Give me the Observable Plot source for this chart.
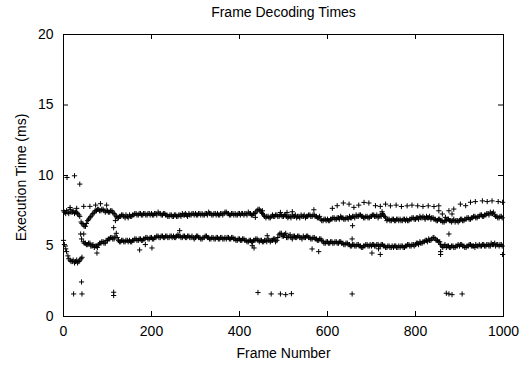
<!DOCTYPE html>
<html>
<head>
<meta charset="utf-8">
<script src="https://cdn.jsdelivr.net/npm/d3@7"></script>
<script src="https://cdn.jsdelivr.net/npm/@observablehq/plot@0.6"></script>
<style>
  html, body { margin: 0; padding: 0; background: #fff; }
  #chart svg { display: block; }
</style>
</head>
<body>
<div id="chart"></div>
<script>
// ---- data ----
const title = "Frame Decoding Times";
const xLabel = "Frame Number";
const yLabel = "Execution Time (ms)";
const xTicks = [0, 200, 400, 600, 800, 1000];
const yTicks = [0, 5, 10, 15, 20];
const frameStep = 5;   // band samples every 5 frames
const frameOffset2 = 2; // second sample set starts at frame 2

// upper band (ms), frames 0,5,...,995
const upperBand = [
  7.5,7.3,7.4,7.6,7.4,7.3,7.4,7.2,6.7,6.5,
  6.4,6.8,7.0,7.2,7.4,7.5,7.6,7.5,7.6,7.4,
  7.5,7.4,7.5,7.3,7.1,7.0,7.1,7.2,7.0,7.1,
  7.2,7.1,7.2,7.3,7.2,7.3,7.2,7.3,7.2,7.3,
  7.3,7.2,7.3,7.4,7.3,7.2,7.3,7.2,7.1,7.2,
  7.1,7.2,7.1,7.2,7.3,7.2,7.2,7.3,7.2,7.3,
  7.3,7.2,7.3,7.3,7.2,7.3,7.4,7.3,7.2,7.3,
  7.3,7.2,7.3,7.3,7.4,7.3,7.2,7.3,7.3,7.2,
  7.3,7.3,7.2,7.3,7.4,7.3,7.2,7.3,7.5,7.6,
  7.4,7.2,7.0,7.1,7.0,7.2,7.1,7.2,7.1,7.2,
  7.1,7.2,7.0,7.1,7.2,7.1,7.0,7.1,7.2,7.1,
  7.0,7.1,7.2,7.1,7.2,7.1,7.0,6.9,6.8,6.9,
  6.9,6.8,6.9,7.0,6.9,7.0,7.1,7.0,6.9,7.0,
  7.1,7.0,7.1,7.2,7.1,7.2,7.1,7.0,7.1,7.0,
  7.1,7.2,7.1,7.0,7.2,7.3,7.1,6.8,6.9,6.8,
  6.9,6.8,6.9,6.9,6.8,6.9,6.9,6.8,6.9,7.0,
  6.9,7.0,7.1,7.0,7.0,7.1,7.0,6.9,7.0,6.9,
  6.8,6.9,6.8,6.7,6.8,6.9,6.8,6.8,6.7,6.8,
  6.8,6.9,6.8,6.9,7.0,6.9,7.0,7.1,7.0,7.1,
  7.2,7.1,7.2,7.3,7.4,7.3,7.2,7.1,7.0,7.1
];
// upper band (ms), frames 2,7,...,997
const upperBand2 = [
  7.4,7.5,7.3,7.4,7.5,7.4,7.3,7.1,6.6,6.4,
  6.6,6.9,7.1,7.3,7.5,7.6,7.5,7.6,7.5,7.5,
  7.4,7.5,7.4,7.2,7.0,7.1,7.2,7.1,7.2,7.0,
  7.1,7.2,7.3,7.2,7.3,7.2,7.3,7.2,7.3,7.2,
  7.2,7.3,7.2,7.3,7.2,7.3,7.2,7.1,7.2,7.1,
  7.2,7.1,7.2,7.1,7.2,7.3,7.1,7.2,7.3,7.2,
  7.2,7.3,7.2,7.2,7.3,7.2,7.3,7.2,7.3,7.2,
  7.2,7.3,7.2,7.4,7.3,7.2,7.3,7.2,7.2,7.3,
  7.2,7.3,7.3,7.2,7.3,7.2,7.3,7.4,7.6,7.5,
  7.3,7.1,7.1,7.0,7.1,7.1,7.2,7.1,7.2,7.1,
  7.2,7.1,7.1,7.0,7.1,7.2,7.1,7.0,7.1,7.2,
  7.1,7.2,7.1,7.2,7.1,7.0,7.1,6.8,6.9,6.8,
  6.8,6.9,7.0,6.9,7.0,6.9,7.0,6.9,7.0,6.9,
  7.0,7.1,7.0,7.1,7.2,7.1,7.0,7.1,7.0,7.1,
  7.2,7.1,7.2,7.1,7.1,7.2,7.0,6.9,6.8,6.9,
  6.8,6.9,6.8,6.8,6.9,6.8,6.8,6.9,7.0,6.9,
  7.0,6.9,7.0,7.1,6.9,7.0,7.1,7.0,6.9,6.8,
  6.9,6.8,6.7,6.8,6.9,6.8,6.7,6.9,6.8,6.7,
  6.9,6.8,6.9,7.0,6.9,7.0,7.1,7.0,7.1,7.2,
  7.1,7.2,7.3,7.2,7.3,7.4,7.1,7.0,7.1,7.0
];

// lower band (ms), frames 0,5,...,995
const lowerBand = [
  5.4,4.8,4.3,4.0,3.9,3.8,4.0,3.9,4.1,5.3,
  5.2,5.1,5.2,5.0,4.9,5.0,5.1,5.2,5.3,5.2,
  5.4,5.5,5.6,5.5,5.9,5.4,5.3,5.4,5.3,5.4,
  5.4,5.3,5.4,5.5,5.4,5.5,5.4,5.5,5.6,5.5,
  5.6,5.5,5.6,5.7,5.6,5.7,5.6,5.7,5.6,5.7,
  5.7,5.6,5.8,5.7,5.6,5.7,5.6,5.7,5.6,5.6,
  5.6,5.7,5.6,5.5,5.6,5.7,5.6,5.5,5.6,5.5,
  5.6,5.5,5.6,5.5,5.5,5.6,5.5,5.6,5.5,5.4,
  5.5,5.4,5.5,5.4,5.3,5.4,5.3,5.4,5.5,5.3,
  5.4,5.3,5.4,5.5,5.3,5.4,5.5,5.4,5.8,5.9,
  5.7,5.9,5.6,5.8,5.5,5.7,5.6,5.7,5.6,5.7,
  5.6,5.7,5.6,5.5,5.6,5.5,5.4,5.5,5.3,5.2,
  5.3,5.2,5.3,5.2,5.3,5.2,5.3,5.2,5.1,5.2,
  5.1,5.0,5.1,5.0,5.1,5.0,4.9,5.0,5.1,5.0,
  5.0,5.1,5.0,5.1,5.0,5.1,5.0,4.9,5.0,4.9,
  4.9,5.0,4.9,4.9,5.0,4.9,5.0,5.1,5.0,5.1,
  5.1,5.2,5.3,5.2,5.3,5.4,5.5,5.4,5.6,5.5,
  5.4,5.3,5.0,5.0,4.9,5.0,4.9,5.0,4.9,5.0,
  5.0,5.1,5.0,4.9,5.0,5.1,5.0,4.9,5.0,5.1,
  5.0,5.1,5.0,5.1,5.0,5.1,5.2,5.1,5.0,5.1
];
// lower band (ms), frames 2,7,...,997
const lowerBand2 = [
  5.1,4.6,4.1,3.9,4.0,3.9,3.8,4.0,4.2,5.2,
  5.1,5.2,5.0,5.1,5.0,4.9,5.2,5.3,5.2,5.4,
  5.5,5.6,5.5,5.7,5.6,5.3,5.4,5.3,5.4,5.3,
  5.3,5.4,5.5,5.4,5.5,5.4,5.5,5.6,5.5,5.6,
  5.5,5.6,5.7,5.6,5.7,5.6,5.7,5.6,5.7,5.6,
  5.6,5.7,5.7,5.6,5.7,5.6,5.7,5.6,5.7,5.5,
  5.7,5.6,5.5,5.6,5.7,5.6,5.5,5.6,5.5,5.6,
  5.5,5.6,5.5,5.6,5.6,5.5,5.6,5.5,5.4,5.5,
  5.4,5.5,5.4,5.3,5.4,5.3,5.4,5.5,5.4,5.4,
  5.3,5.4,5.3,5.4,5.4,5.5,5.3,5.6,5.9,5.7,
  5.8,5.6,5.7,5.6,5.7,5.6,5.7,5.6,5.5,5.6,
  5.7,5.6,5.5,5.6,5.5,5.4,5.5,5.4,5.2,5.3,
  5.2,5.3,5.2,5.3,5.2,5.3,5.2,5.1,5.2,5.1,
  5.0,5.1,5.0,5.1,5.0,4.9,5.0,5.1,5.0,5.1,
  5.1,5.0,5.1,5.0,5.1,5.0,4.9,5.0,4.9,5.0,
  5.0,4.9,5.0,5.0,4.9,5.0,5.1,5.0,5.1,5.0,
  5.2,5.1,5.2,5.3,5.4,5.3,5.4,5.5,5.6,5.4,
  5.3,5.1,4.9,5.1,5.0,4.9,5.0,4.9,5.0,5.1,
  5.1,5.0,4.9,5.0,5.1,5.0,5.0,5.1,5.0,5.0,
  5.1,5.0,5.1,5.0,5.2,5.1,5.0,5.1,5.1,5.0
];

// sparse points above the upper band
const highFrames = [8,25,37,15,30,46,60,73,84,98,569,611,622,636,649,660,671,683,694,709,720,724,732,
  743,756,768,781,792,805,817,829,842,853,853,861,868,876,883,887,902,914,925,936,952,963,974,988,998];
const highTimes  = [9.86,9.98,9.39,7.73,7.67,7.81,7.81,7.9,8.0,7.9,7.57,7.67,7.86,8.05,7.97,7.74,7.9,8.09,8.05,7.86,7.81,7.43,7.97,
  7.85,7.9,7.8,7.85,7.9,7.85,7.8,7.85,7.8,7.85,7.5,7.27,7.03,7.5,7.27,7.62,7.97,7.86,8.1,8.15,8.2,8.15,8.2,8.15,8.1];

// stray points around the bands
const strayFrames = [39,46,41,114,118,76,173,186,201,264,429,433,436,452,463,493,508,520,565,580,657,656,701,716,720,857,857,876,998];
const strayTimes  = [5.85,5.85,5.5,6.3,6.8,4.5,4.72,5.1,4.86,6.09,5.02,4.86,7.03,7.5,5.73,7.38,7.38,7.43,4.79,4.6,6.44,5.5,4.5,4.8,4.4,4.6,4.4,5.85,4.4];

// dropouts near the bottom
const lowFrames = [23,41,42,114,114,442,472,493,505,518,656,870,876,883,906];
const lowTimes  = [1.6,2.45,1.6,1.72,1.49,1.7,1.6,1.6,1.55,1.62,1.6,1.65,1.6,1.55,1.6];

// ---- build table ----
const points = [
  ...upperBand.map((t, i) => ({frame: i * frameStep, time: t})),
  ...upperBand2.map((t, i) => ({frame: frameOffset2 + i * frameStep, time: t})),
  ...lowerBand.map((t, i) => ({frame: i * frameStep, time: t})),
  ...lowerBand2.map((t, i) => ({frame: frameOffset2 + i * frameStep, time: t})),
  ...highFrames.map((f, i) => ({frame: f, time: highTimes[i]})),
  ...strayFrames.map((f, i) => ({frame: f, time: strayTimes[i]})),
  ...lowFrames.map((f, i) => ({frame: f, time: lowTimes[i]}))
];

const W = 531, H = 366;
const mL = 63, mR = 28, mT = 34, mB = 50;
const innerW = W - mL - mR, innerH = H - mT - mB;
const tick = 5;
const font = "'Liberation Sans', Arial, Helvetica, sans-serif";

const thinPlus = {
  draw(ctx, size) {
    const r = Math.sqrt(size / Math.PI);
    ctx.moveTo(-r, 0); ctx.lineTo(r, 0);
    ctx.moveTo(0, -r); ctx.lineTo(0, r);
  }
};

const chart = Plot.plot({
  width: W, height: H,
  marginLeft: mL, marginRight: mR, marginTop: mT, marginBottom: mB,
  style: {fontFamily: font, background: "#fff", color: "#000"},
  x: {domain: [0, 1000]},
  y: {domain: [0, 20]},
  marks: [
    Plot.dot(points, {x: "frame", y: "time", symbol: thinPlus, r: 2.6, stroke: "black", fill: "none", strokeWidth: 1}),
    Plot.tickX(xTicks, {x: d => d, insetTop: innerH - tick, stroke: "black"}),
    Plot.tickX(xTicks, {x: d => d, insetBottom: innerH - tick, stroke: "black"}),
    Plot.tickY(yTicks, {y: d => d, insetRight: innerW - tick, stroke: "black"}),
    Plot.tickY(yTicks, {y: d => d, insetLeft: innerW - tick, stroke: "black"}),
    Plot.frame({stroke: "black", strokeWidth: 1}),
    Plot.axisX({ticks: xTicks, tickSize: 0, tickPadding: 10, fontSize: 14, label: null, tickFormat: d => String(d)}),
    Plot.axisY({ticks: yTicks, tickSize: 0, tickPadding: 10, fontSize: 14, label: null, tickFormat: d => String(d)}),
    Plot.text([xLabel], {text: d => d, frameAnchor: "bottom", lineAnchor: "middle", dy: 37, fontSize: 14}),
    Plot.text([yLabel], {text: d => d, frameAnchor: "left", textAnchor: "middle", lineAnchor: "middle", dx: -42, dy: 2, rotate: -90, fontSize: 14}),
    Plot.text([title], {text: d => d, frameAnchor: "top", lineAnchor: "middle", dy: -22, fontSize: 14})
  ]
});
document.getElementById("chart").appendChild(chart);
</script>
</body>
</html>
